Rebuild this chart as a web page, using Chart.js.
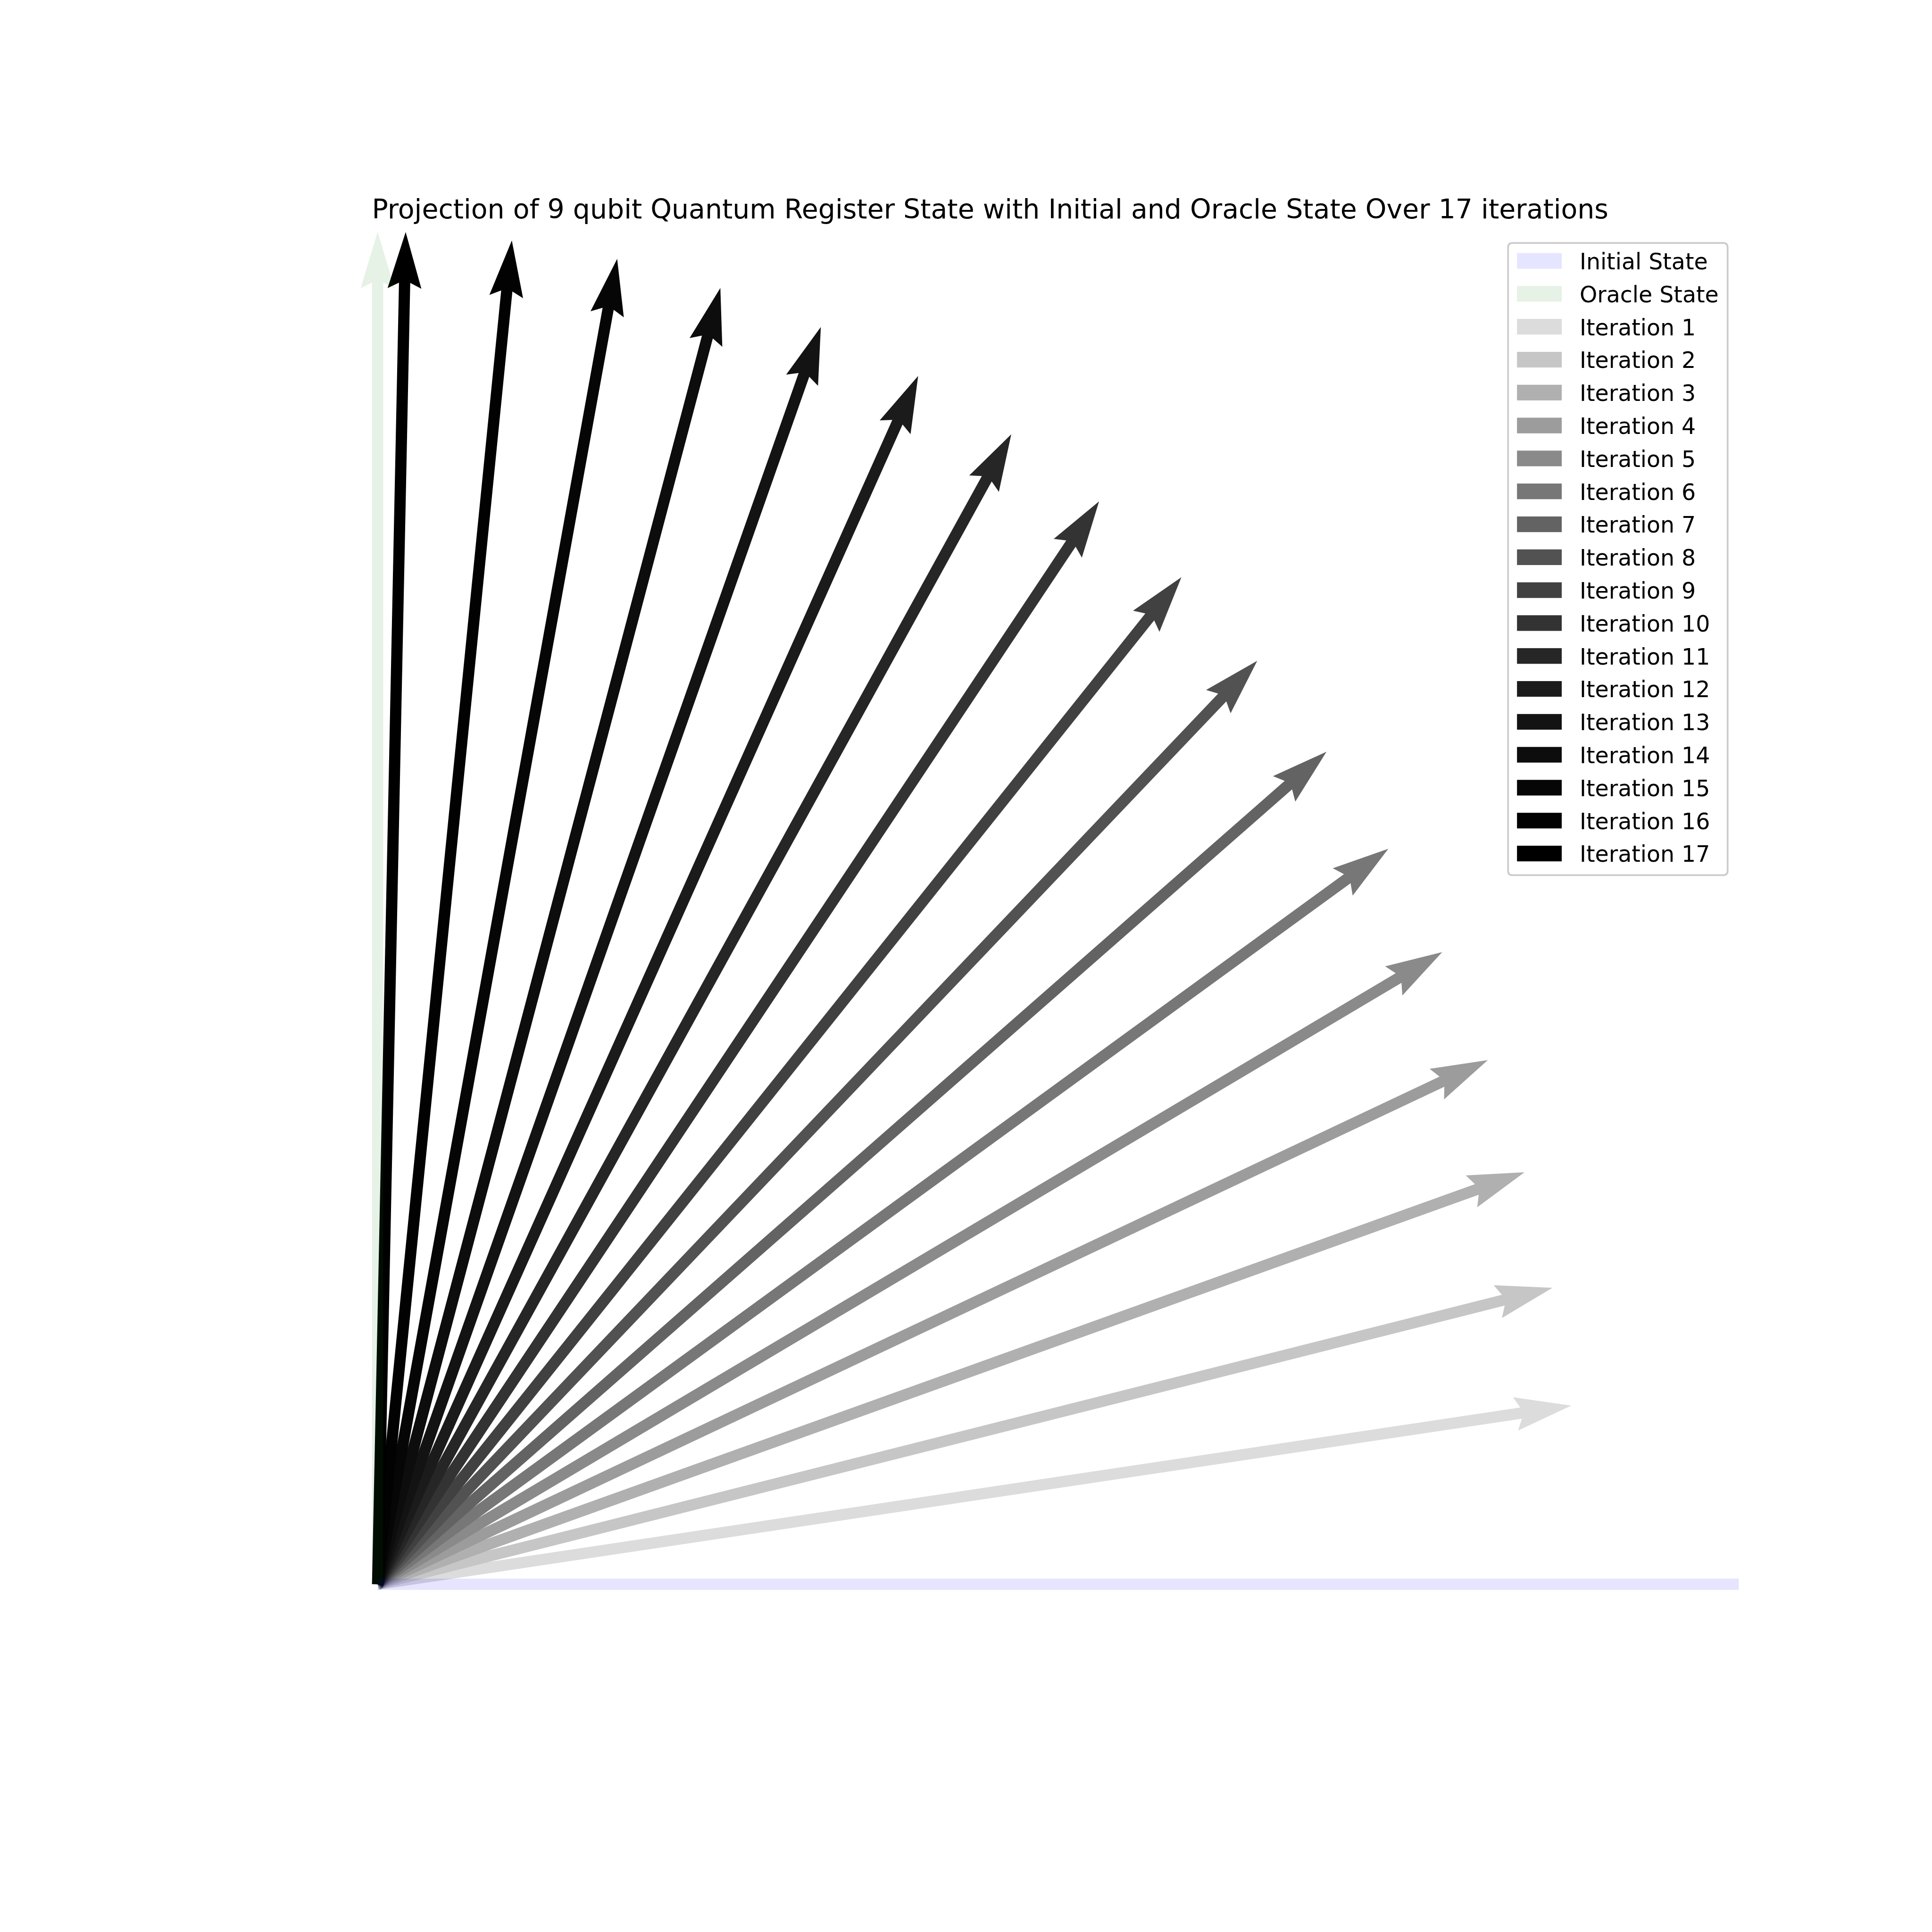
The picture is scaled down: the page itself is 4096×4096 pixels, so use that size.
<!DOCTYPE html>
<html>
<head>
<meta charset="utf-8">
<script src="https://cdn.jsdelivr.net/npm/chart.js@4/dist/chart.umd.min.js"></script>
<style>
  html, body { margin: 0; padding: 0; background: #ffffff; }
  #wrap { width: 4096px; height: 4096px; }
</style>
</head>
<body>
<div id="wrap"><canvas id="c" width="4096" height="4096"></canvas></div>
<script>
// ---------------- data ----------------
const chartTitle = "Projection of 9 qubit Quantum Register State with Initial and Oracle State Over 17 iterations";
const iterationLabels = ["Iteration 1","Iteration 2","Iteration 3","Iteration 4","Iteration 5","Iteration 6",
  "Iteration 7","Iteration 8","Iteration 9","Iteration 10","Iteration 11","Iteration 12","Iteration 13",
  "Iteration 14","Iteration 15","Iteration 16","Iteration 17"];
const iterationX = [0.8769, 0.8631, 0.8426, 0.8156, 0.7821, 0.7425, 0.6971, 0.6462, 0.5905,
  0.5300, 0.4655, 0.3971, 0.3256, 0.2518, 0.1760, 0.0986, 0.0206];
const iterationY = [0.1321, 0.2192, 0.3046, 0.3876, 0.4674, 0.5438, 0.6156, 0.6828, 0.7446,
  0.8007, 0.8503, 0.8935, 0.9296, 0.9585, 0.9800, 0.9936, 0.9998];
const iterationColors = ["#dcdcdc","#c6c6c6","#b0b0b0","#9c9c9c","#8a8a8a","#777777","#636363",
  "#525252","#414141","#333333","#262626","#1b1b1b","#131313","#0d0d0d","#060606","#020202","#000000"];
const initialLabel = "Initial State";
const oracleLabel = "Oracle State";
const initialVector = [1.1, 0.0];
const oracleVector = [0.0, 1.0];
const initialColor = "rgba(0,0,255,0.1)";
const oracleColor = "rgba(0,128,0,0.1)";
const axisMin = -0.1, axisMax = 1.0;

// ---------------- styling (px in the 4096 canvas) ----------------
const S = 4096 / 4800;
const shaftW = 28 * S;
const FONT = "'DejaVu Sans', sans-serif";

function arrowPath(ctx, x0, y0, x1, y1, w) {
  const dx = x1 - x0, dy = y1 - y0;
  const L = Math.hypot(dx, dy);
  const ux = dx / L, uy = dy / L;
  const nx = -uy, ny = ux;
  const pts = [[0,-0.5],[L/w-4.5,-0.5],[L/w-5,-1.5],[L/w,0],[L/w-5,1.5],[L/w-4.5,0.5],[0,0.5]];
  ctx.beginPath();
  pts.forEach((p, i) => {
    const a = p[0] * w, b = p[1] * w;
    const X = x0 + ux * a + nx * b, Y = y0 + uy * a + ny * b;
    if (i === 0) ctx.moveTo(X, Y); else ctx.lineTo(X, Y);
  });
  ctx.closePath();
}

const quiverPlugin = {
  id: 'quiver',
  afterDatasetsDraw(chart) {
    const ctx = chart.ctx, xs = chart.scales.x, ys = chart.scales.y, ca = chart.chartArea;
    ctx.save();
    ctx.beginPath();
    ctx.rect(ca.left, ca.top, ca.right - ca.left, ca.bottom - ca.top);
    ctx.clip();
    const ox = xs.getPixelForValue(0), oy = ys.getPixelForValue(0);
    chart.data.datasets.forEach(ds => {
      const p = ds.data[0];
      ctx.fillStyle = ds.arrowColor;
      arrowPath(ctx, ox, oy, xs.getPixelForValue(p.x), ys.getPixelForValue(p.y), shaftW);
      ctx.fill();
    });
    ctx.restore();

    // title
    ctx.save();
    ctx.fillStyle = "#000000";
    ctx.font = (66.67 * S) + "px " + FONT;
    ctx.textAlign = "center";
    ctx.textBaseline = "alphabetic";
    ctx.fillText(chartTitle, (ca.left + ca.right) / 2, ca.top - 33.3 * S);
    ctx.restore();

    // legend
    const fs = 55.56 * S;
    const labels = chart.data.datasets.map(d => d.label);
    const colors = chart.data.datasets.map(d => d.arrowColor);
    const order = [labels.length - 2, labels.length - 1];
    for (let i = 0; i < labels.length - 2; i++) order.push(i);
    ctx.save();
    ctx.font = fs + "px " + FONT;
    let maxW = 0;
    order.forEach(i => { maxW = Math.max(maxW, ctx.measureText(labels[i]).width); });
    const pad = 0.4 * fs, hl = 2.0 * fs, htp = 0.8 * fs, rowH = 54 * S, gap = 0.5 * fs;
    const pitch = 81.8 * S;
    const boxW = pad + hl + htp + maxW + pad;
    const boxH = 2 * pad + order.length * rowH + (order.length - 1) * gap;
    const right = ca.right - 0.5 * fs, top = ca.top + 0.5 * fs;
    const left = right - boxW;
    const r = 0.2 * fs;
    ctx.beginPath();
    ctx.moveTo(left + r, top);
    ctx.lineTo(right - r, top); ctx.quadraticCurveTo(right, top, right, top + r);
    ctx.lineTo(right, top + boxH - r); ctx.quadraticCurveTo(right, top + boxH, right - r, top + boxH);
    ctx.lineTo(left + r, top + boxH); ctx.quadraticCurveTo(left, top + boxH, left, top + boxH - r);
    ctx.lineTo(left, top + r); ctx.quadraticCurveTo(left, top, left + r, top);
    ctx.closePath();
    ctx.fillStyle = "rgba(255,255,255,0.8)";
    ctx.fill();
    ctx.lineWidth = 4.4 * S;
    ctx.strokeStyle = "#cccccc";
    ctx.stroke();
    order.forEach((idx, k) => {
      const cy = top + 44.4 * S + k * pitch;
      ctx.fillStyle = colors[idx];
      ctx.fillRect(left + pad, cy - 0.35 * fs, hl, 0.7 * fs);
      ctx.fillStyle = "#000000";
      ctx.textAlign = "left";
      ctx.textBaseline = "alphabetic";
      ctx.fillText(labels[idx], left + pad + hl + htp, cy + 21 * S);
    });
    ctx.restore();
  }
};

const datasets = iterationLabels.map((lab, i) => ({
  label: lab,
  data: [{ x: iterationX[i], y: iterationY[i] }],
  arrowColor: iterationColors[i],
  pointRadius: 0, showLine: false
}));
datasets.push({ label: initialLabel, data: [{ x: initialVector[0], y: initialVector[1] }],
  arrowColor: initialColor, pointRadius: 0, showLine: false });
datasets.push({ label: oracleLabel, data: [{ x: oracleVector[0], y: oracleVector[1] }],
  arrowColor: oracleColor, pointRadius: 0, showLine: false });

new Chart(document.getElementById('c'), {
  type: 'scatter',
  data: { datasets },
  options: {
    responsive: false,
    animation: false,
    devicePixelRatio: 1,
    layout: { padding: { left: 600 * S, right: 4096 - 4320 * S, top: 576 * S, bottom: 4096 - 4272 * S } },
    plugins: { legend: { display: false }, title: { display: false }, tooltip: { enabled: false } },
    scales: {
      x: { type: 'linear', min: axisMin, max: axisMax, display: false },
      y: { type: 'linear', min: axisMin, max: axisMax, display: false }
    }
  },
  plugins: [quiverPlugin]
});
</script>
</body>
</html>
